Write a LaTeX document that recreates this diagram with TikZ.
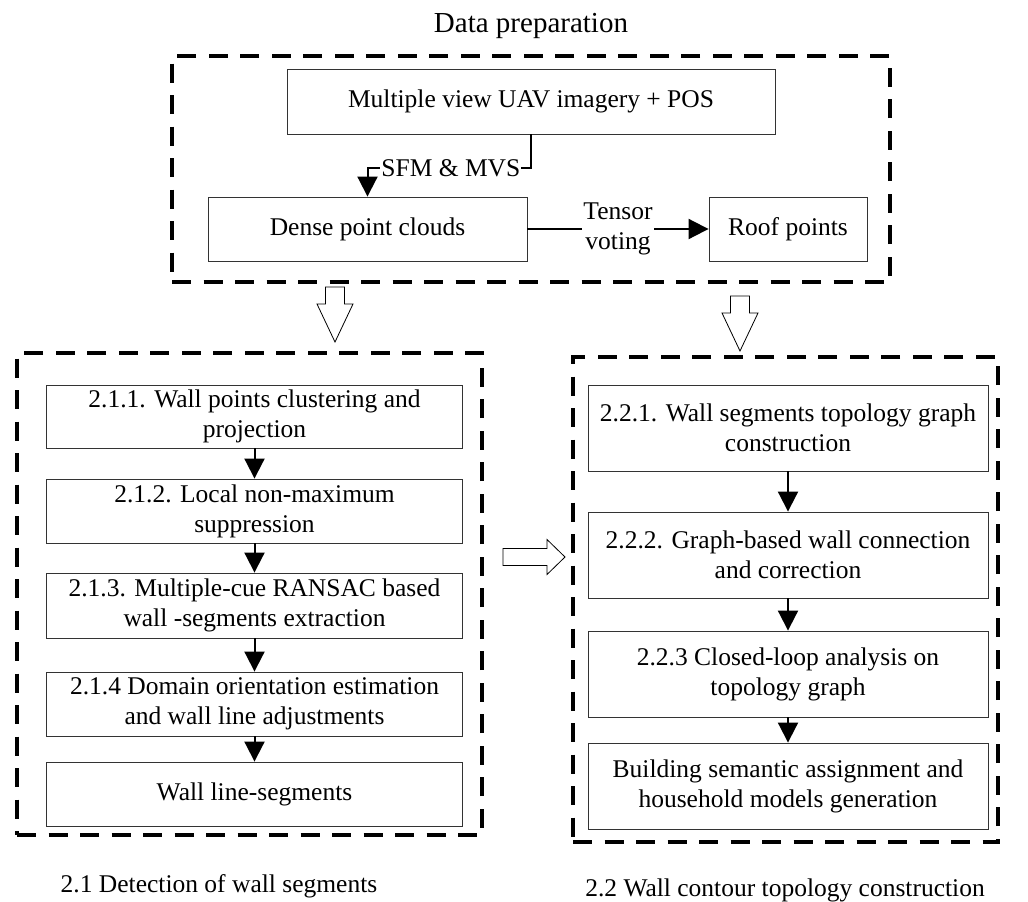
\documentclass[tikz,border=0pt]{standalone}
\usepackage{fontspec}
\setmainfont{Liberation Serif}
\usetikzlibrary{arrows.meta}
\begin{document}
\begin{tikzpicture}[x=1pt,y=-1pt,
    every node/.style={font=\fontsize{25.5}{30}\selectfont},
    stage/.style={draw=black!80,line width=0.9pt,align=center,inner sep=0pt},
    group/.style={draw,line width=3.5pt,dash pattern=on 19pt off 12.5pt,inner sep=0pt},
    flow/.style={line width=2pt,-{Triangle[width=20pt,length=20pt]}},
    lbl/.style={fill=white,inner sep=1pt,align=center},
    hollow/.style={draw,line width=0.8pt,fill=white}]
      \useasboundingbox (0,0) rectangle (1028,902);
      % groups
      \node[group,minimum width=718pt,minimum height=226pt] (prep) at (531,169) {};
      \node[group,minimum width=465pt,minimum height=482pt] (detect) at (249.5,594) {};
      \node[group,minimum width=425pt,minimum height=485pt] (topo) at (785.5,599.5) {};
      \node[font=\fontsize{29}{34}\selectfont] (preptitle) at (531,26) {Data preparation};
      \node (detecttitle) at (219,886) {2.1 Detection of wall segments};
      \node (topotitle) at (785,890) {2.2 Wall contour topology construction};
      % data preparation
      \node[stage,minimum width=488pt,minimum height=65pt] (uav) at (531,101.5) {Multiple view UAV imagery + POS};
      \node[stage,minimum width=319pt,minimum height=64pt] (dense) at (367.5,229) {Dense point clouds};
      \node[stage,minimum width=158pt,minimum height=64pt] (roof) at (788,229) {Roof points};
      % detection of wall segments
      \node[stage,minimum width=416pt,minimum height=63pt] (s211) at (254.5,416.5) {2.1.1. Wall points clustering and\\projection};
      \node[stage,minimum width=416pt,minimum height=64pt] (s212) at (254.5,511) {2.1.2. Local non-maximum\\suppression};
      \node[stage,minimum width=416pt,minimum height=65pt] (s213) at (254.5,605.5) {2.1.3. Multiple-cue RANSAC based\\wall -segments extraction};
      \node[stage,minimum width=416pt,minimum height=64pt] (s214) at (254.5,704) {2.1.4 Domain orientation estimation\\and wall line adjustments};
      \node[stage,minimum width=416pt,minimum height=64pt] (wls) at (254.5,794) {Wall line-segments};
      % wall contour topology construction
      \node[stage,minimum width=400pt,minimum height=86pt] (s221) at (788,428) {2.2.1. Wall segments topology graph\\construction};
      \node[stage,minimum width=400pt,minimum height=86pt] (s222) at (788,555) {2.2.2. Graph-based wall connection\\and correction};
      \node[stage,minimum width=400pt,minimum height=86pt] (s223) at (788,674) {2.2.3 Closed-loop analysis on\\topology graph};
      \node[stage,minimum width=400pt,minimum height=86pt] (bsa) at (788,786) {Building semantic assignment and\\household models generation};
      % connectors
      \draw[flow] (uav.south) -- ++(0,34) -| node[lbl,pos=0.245] {SFM \& MVS} (dense.north);
      \draw[flow] (dense) -- node[lbl] {Tensor\\voting} (roof);
      \draw[flow] (s211) -- (s212);
      \draw[flow] (s212) -- (s213);
      \draw[flow] (s213) -- (s214);
      \draw[flow] (s214) -- (wls);
      \draw[flow] (s221) -- (s222);
      \draw[flow] (s222) -- (s223);
      \draw[flow] (s223) -- (bsa);
      % hollow arrows
      \draw[hollow] (325.5,287) -- (344.5,287) -- (344.5,304) -- (353,304) -- (335,342)
        -- (317,304) -- (325.5,304) -- cycle;
      \draw[hollow] (730.5,296) -- (749.5,296) -- (749.5,313) -- (758,313) -- (740,351)
        -- (722,313) -- (730.5,313) -- cycle;
      \draw[hollow] (503,548.5) -- (547,548.5) -- (547,539.5) -- (565,557) -- (547,574.5)
        -- (547,565.5) -- (503,565.5) -- cycle;
    \end{tikzpicture}
\end{document}
